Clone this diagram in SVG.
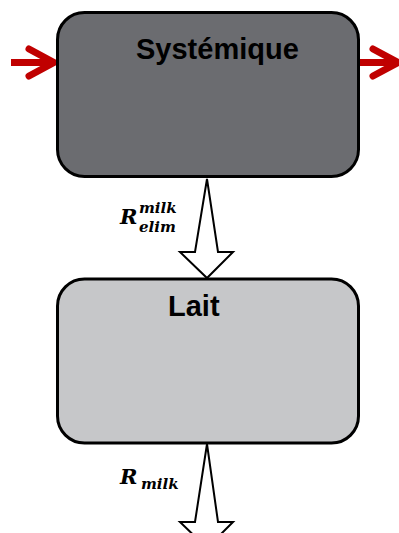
<svg xmlns="http://www.w3.org/2000/svg" width="399" height="533" viewBox="0 0 399 533">
<style>
.box{stroke:#000;stroke-width:3}
.title{font-family:"Liberation Sans",Arial,sans-serif;font-weight:bold;font-size:29px;fill:#000}
.red{fill:none;stroke:#c00000;stroke-width:7;stroke-linecap:round;stroke-linejoin:round}
.redshaft{fill:none;stroke:#c00000;stroke-width:7}
.hollow{fill:#fff;stroke:#000;stroke-width:2;stroke-linejoin:miter}
.lbl{font-family:"DejaVu Serif","Liberation Serif",serif;font-weight:bold;font-style:italic;fill:#000}
</style>
<rect width="399" height="533" fill="#fff"/>
<g id="connectors">
  <line class="redshaft" x1="11" y1="62.5" x2="55" y2="62.5"/>
  <polyline class="red" points="29,49 54,62.5 29,76"/>
  <line class="redshaft" x1="359" y1="62.5" x2="396" y2="62.5"/>
  <polyline class="red" points="373,49 398,62.5 373,76"/>
  <polygon class="hollow" points="207,179 218,252 233,252 207,278 180,252 195,252"/>
  <polygon class="hollow" points="207,444 218,522 233,522 207,548 180,522 195,522"/>
  <text class="lbl" x="120" y="224" font-size="21">R</text>
  <text class="lbl" x="139" y="212.5" font-size="15">milk</text>
  <text class="lbl" x="139" y="232" font-size="15">elim</text>
  <text class="lbl" x="120" y="484" font-size="21">R</text>
  <text class="lbl" x="141" y="489" font-size="15">milk</text>
</g>
<g id="systemique">
  <rect class="box" x="57.5" y="12.5" width="301" height="164" rx="27" fill="#6b6c70"/>
  <text class="title" x="136" y="59">Systémique</text>
</g>
<g id="lait">
  <rect class="box" x="57.5" y="279" width="301" height="164" rx="27" fill="#c6c7c9"/>
  <text class="title" x="168" y="316">Lait</text>
</g>
</svg>
